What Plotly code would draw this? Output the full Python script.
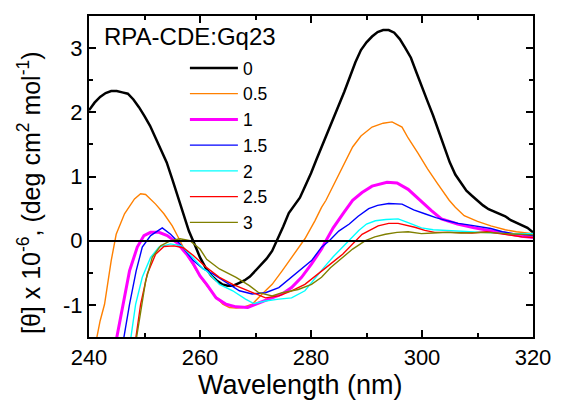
import plotly.graph_objects as go

# ---------------- data ----------------
labels = ["0", "0.5", "1", "1.5", "2", "2.5", "3"]
colors = ["#000000", "#FF8000", "#FF00FF", "#0000FF", "#00FFFF", "#FF0000", "#808000"]
widths = [2.5, 1.4, 3.0, 1.4, 1.4, 1.4, 1.4]

wl_0 = [240, 241, 242, 243, 244, 245, 246, 247, 248, 249, 250, 251, 252, 253, 254, 255, 256, 257, 258, 259,
        260, 261, 262, 263, 264, 265, 266, 267, 268, 269, 270, 271, 272, 273, 274, 275, 276, 277, 278, 279,
        280, 281, 282, 283, 284, 285, 286, 287, 288, 289, 290, 291, 292, 293, 294, 295, 296, 297, 298, 299,
        300, 301, 302, 303, 304, 305, 306, 307, 308, 309, 310, 311, 312, 313, 314, 315, 316, 317, 318, 319, 320]
cd_0 = [2.03, 2.15, 2.24, 2.30, 2.33, 2.33, 2.31, 2.29, 2.20, 2.08, 1.94, 1.79, 1.60, 1.40, 1.22, 0.96, 0.70, 0.42, 0.15, -0.05,
        -0.26, -0.42, -0.54, -0.62, -0.68, -0.70, -0.70, -0.66, -0.62, -0.56, -0.47, -0.38, -0.28, -0.16, 0.02, 0.22, 0.43, 0.55, 0.67, 0.86,
        1.05, 1.27, 1.48, 1.67, 1.87, 2.10, 2.32, 2.55, 2.78, 2.97, 3.09, 3.18, 3.25, 3.28, 3.28, 3.24, 3.14, 3.00, 2.85, 2.62,
        2.38, 2.17, 1.95, 1.70, 1.45, 1.22, 1.03, 0.90, 0.78, 0.70, 0.62, 0.55, 0.49, 0.45, 0.42, 0.38, 0.32, 0.28, 0.25, 0.20, 0.13]

wl_05 = [241.2, 242.0, 242.8, 244.0, 244.9, 246.4, 248.2, 249.3, 250.2, 252.0, 253.5, 255.0, 256.1, 257.6, 259.4,
         260.6, 262.4, 264.1, 265.3, 266.5, 267.7, 269.4, 271.2, 273.0, 274.8, 276.5, 277.7, 278.9, 280.7, 281.9,
         282.7, 284.0, 285.5, 287.5, 289.0, 291.0, 293.0, 294.6, 296.4, 297.5, 299.3, 301.0, 302.8, 304.9, 306.0,
         307.6, 310.0, 312.4, 315.0, 317.0, 320.0]
cd_05 = [-1.60, -1.25, -0.99, -0.31, 0.10, 0.42, 0.65, 0.73, 0.72, 0.57, 0.42, 0.23, 0.05, -0.21, -0.47,
         -0.63, -0.83, -0.99, -1.04, -1.05, -1.04, -0.99, -0.83, -0.68, -0.47, -0.26, -0.10, 0.03, 0.31, 0.52,
         0.63, 0.85, 1.10, 1.46, 1.63, 1.77, 1.83, 1.85, 1.77, 1.60, 1.36, 1.12, 0.89, 0.63, 0.52,
         0.39, 0.30, 0.23, 0.17, 0.14, 0.11]

wl_1 = [244.8, 246.1, 247.3, 248.7, 249.9, 251.1, 252.6, 254.1, 255.8, 257.6, 258.8, 260.0, 261.2, 262.9, 264.7,
        266.5, 268.6, 270.0, 272.4, 274.8, 276.5, 278.3, 280.1, 281.9, 282.7, 284.0, 286.0, 287.5, 289.2, 291.0,
        293.7, 295.5, 297.5, 299.6, 301.7, 303.5, 306.4, 309.4, 312.0, 315.2, 318.0, 320.0]
cd_1 = [-1.60, -0.99, -0.47, -0.10, 0.08, 0.13, 0.13, 0.08, -0.03, -0.21, -0.36, -0.55, -0.68, -0.89, -0.99,
        -1.03, -1.04, -0.99, -0.91, -0.83, -0.73, -0.57, -0.36, -0.13, 0.00, 0.20, 0.45, 0.63, 0.75, 0.85,
        0.91, 0.90, 0.80, 0.63, 0.47, 0.34, 0.26, 0.20, 0.16, 0.11, 0.07, 0.05]

wl_15 = [246.1, 247.3, 248.5, 249.6, 251.1, 253.2, 254.7, 256.4, 258.8, 260.6, 262.4, 264.7, 267.1, 269.4, 271.8,
         274.2, 276.5, 278.3, 280.1, 281.9, 283.3, 285.0, 286.9, 288.5, 290.4, 292.0, 294.0, 296.4, 298.5, 300.5,
         302.5, 304.6, 306.5, 308.1, 310.0, 312.4, 314.5, 316.5, 318.0, 320.0]
cd_15 = [-1.60, -0.99, -0.47, -0.10, 0.08, 0.20, 0.10, -0.05, -0.31, -0.44, -0.52, -0.65, -0.78, -0.83, -0.81,
         -0.73, -0.57, -0.44, -0.31, -0.10, 0.00, 0.15, 0.26, 0.38, 0.50, 0.55, 0.58, 0.57, 0.48, 0.42,
         0.36, 0.31, 0.27, 0.25, 0.22, 0.19, 0.14, 0.11, 0.10, 0.08]

wl_2 = [247.4, 248.4, 249.6, 251.1, 252.6, 254.7, 256.7, 258.8, 260.6, 261.2, 263.5, 265.9, 268.2, 269.7, 271.8,
        274.2, 276.5, 278.9, 281.3, 282.5, 284.0, 286.3, 288.6, 290.0, 291.6, 293.5, 295.7, 297.5, 299.9, 302.0,
        304.6, 307.0, 309.4, 312.0, 315.2, 318.0, 320.0]
cd_2 = [-1.60, -0.99, -0.57, -0.26, -0.10, -0.05, -0.08, -0.27, -0.44, -0.47, -0.68, -0.78, -0.91, -0.98, -0.94,
        -0.91, -0.89, -0.78, -0.52, -0.40, -0.25, -0.05, 0.16, 0.26, 0.31, 0.33, 0.34, 0.28, 0.20, 0.17,
        0.16, 0.14, 0.13, 0.12, 0.11, 0.11, 0.11]

wl_25 = [248.3, 249.3, 250.5, 252.0, 253.5, 255.3, 257.0, 258.8, 261.2, 263.5, 265.9, 268.2, 270.0, 271.8, 274.2,
         276.5, 278.9, 281.3, 282.7, 285.7, 287.5, 289.2, 292.1, 294.0, 295.7, 298.7, 300.5, 302.3, 305.0, 307.0,
         309.0, 311.7, 314.0, 316.5, 318.0, 320.0]
cd_25 = [-1.60, -0.99, -0.52, -0.21, -0.09, -0.08, -0.11, -0.23, -0.42, -0.57, -0.68, -0.76, -0.83, -0.89, -0.86,
         -0.78, -0.68, -0.52, -0.42, -0.21, -0.05, 0.10, 0.23, 0.27, 0.27, 0.21, 0.16, 0.13, 0.13, 0.13,
         0.12, 0.14, 0.11, 0.08, 0.06, 0.05]

wl_3 = [248.4, 249.3, 250.2, 251.4, 252.9, 254.7, 256.4, 258.2, 260.0, 261.2, 263.5, 266.5, 268.9, 270.6, 273.0,
        274.8, 277.7, 280.1, 281.9, 283.5, 285.7, 287.5, 289.8, 291.5, 293.4, 295.5, 297.5, 299.9, 302.0, 304.6,
        307.0, 309.4, 312.0, 315.2, 318.0, 320.0]
cd_3 = [-1.60, -1.09, -0.63, -0.26, -0.08, 0.00, 0.03, 0.00, -0.13, -0.29, -0.44, -0.57, -0.70, -0.81, -0.86,
        -0.81, -0.76, -0.68, -0.57, -0.42, -0.26, -0.13, 0.00, 0.06, 0.10, 0.13, 0.14, 0.11, 0.12, 0.13,
        0.12, 0.13, 0.13, 0.11, 0.10, 0.09]

xs = [wl_0, wl_05, wl_1, wl_15, wl_2, wl_25, wl_3]
ys = [cd_0, cd_05, cd_1, cd_15, cd_2, cd_25, cd_3]

x_ticks = [240, 260, 280, 300, 320]
y_ticks = [-1, 0, 1, 2, 3]
y_ticktext = ["-1", "0", "1", "2", "3"]

FONT = "Liberation Sans, Arial, sans-serif"

fig = go.Figure()
for i in range(len(labels)):
    fig.add_trace(go.Scatter(
        x=xs[i], y=ys[i], mode="lines", name=labels[i],
        line=dict(color=colors[i], width=widths[i]),
        legendgroup="g" + str(i),
    ))

axis_common = dict(
    showline=True, linecolor="black", linewidth=2, mirror="ticks",
    ticks="inside", ticklen=7, tickwidth=2, tickcolor="black",
    showgrid=False, tickfont=dict(family=FONT, size=22, color="black"),
)

fig.update_layout(
    width=563, height=401,
    margin=dict(l=89, r=23, t=16, b=64),
    paper_bgcolor="white", plot_bgcolor="white",
    font=dict(family=FONT, color="black"),
    xaxis=dict(range=[240, 320], tickvals=x_ticks, zeroline=False,
               minor=dict(ticks="inside", ticklen=4, tickwidth=2, tickcolor="black", dtick=10, tick0=240),
               **axis_common),
    yaxis=dict(range=[-1.5, 3.5], tickvals=y_ticks, ticktext=y_ticktext,
               zeroline=True, zerolinecolor="black", zerolinewidth=2, zerolinelayer="above traces",
               minor=dict(ticks="inside", ticklen=4, tickwidth=2, tickcolor="black", dtick=0.5, tick0=0),
               **axis_common),
    showlegend=True,
    legend=dict(x=0.216, y=0.894, xanchor="left", yanchor="top",
                bgcolor="rgba(0,0,0,0)", borderwidth=0,
                font=dict(family=FONT, size=17.5, color="black"),
                itemwidth=48, tracegroupgap=0),
    annotations=[
        dict(text="RPA-CDE:Gq23", xref="paper", yref="paper", x=0.0288, y=0.9346,
             xanchor="left", yanchor="middle", showarrow=False,
             font=dict(family=FONT, size=24, color="black")),
        dict(text="Wavelength (nm)", xref="paper", yref="paper", x=0.4756, y=-0.1495,
             xanchor="center", yanchor="middle", showarrow=False,
             font=dict(family=FONT, size=27, color="black")),
        dict(text="[θ] x 10<sup>-6</sup>, (deg cm<sup>2</sup> mol<sup>-1</sup>)",
             xref="paper", yref="paper", x=-0.135, y=0.4486, textangle=-90,
             xanchor="center", yanchor="middle", showarrow=False,
             font=dict(family=FONT, size=25, color="black")),
    ],
)

fig.write_html("out.html")
